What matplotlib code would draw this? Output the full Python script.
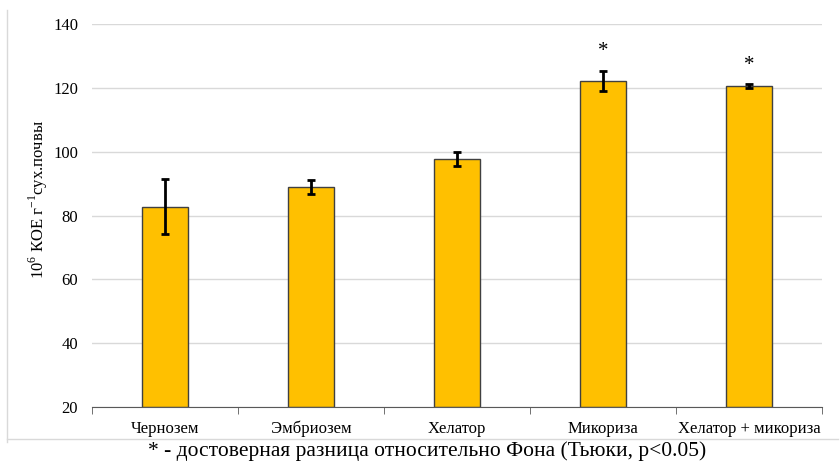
import numpy as np
import matplotlib.pyplot as plt
from matplotlib.lines import Line2D

plt.rcParams['font.family'] = ['Liberation Serif', 'DejaVu Serif']
plt.rcParams['mathtext.fontset'] = 'custom'
plt.rcParams['mathtext.rm'] = 'Liberation Serif'

# data
categories = ['Чернозем', 'Эмбриозем', 'Хелатор', 'Микориза', 'Хелатор + микориза']
values = [82.8, 88.9, 97.8, 122.2, 120.6]
errors = [8.5, 2.2, 2.2, 3.2, 0.5]
significant = [False, False, False, True, True]

fig = plt.figure(figsize=(8.4, 4.65), dpi=100)
ax = fig.add_axes([0.1095, 0.1247, 0.8691, 0.8237])

x = np.arange(len(categories))
ax.bar(x, np.array(values) - 20, bottom=20, width=0.315, color='#FFC000',
       edgecolor='#404040', linewidth=1.0, zorder=2)
ax.errorbar(x, values, yerr=errors, fmt='none', ecolor='black',
            elinewidth=2, capsize=3, capthick=2, zorder=3)

for xi, v, e, s in zip(x, values, errors, significant):
    if s:
        ax.text(xi, v + e + 6, '*', ha='center', va='center', fontsize=15)

ax.set_xlim(-0.5, len(categories) - 0.5)
ax.set_ylim(20, 140)
ax.set_yticks(np.arange(20, 141, 20))
ax.yaxis.grid(True, color='#d9d9d9', linewidth=1, zorder=0)
ax.set_axisbelow(True)

for s in ['top', 'right', 'left']:
    ax.spines[s].set_visible(False)
ax.spines['bottom'].set_color('#595959')
ax.spines['bottom'].set_zorder(4)

ax.set_xticks(x)
ax.set_xticklabels(categories, fontsize=12)
ax.set_xticks(np.arange(-0.5, len(categories), 1), minor=True)
ax.tick_params(axis='x', which='major', length=0, pad=10)
ax.tick_params(axis='x', which='minor', length=5, color='#595959')
ax.tick_params(axis='y', length=0, labelsize=12, pad=10)

ax.set_ylabel(r'10$^6$ КОЕ г$^{\mathrm{-}1}$сух.почвы', fontsize=12)
ax.yaxis.set_label_coords(-0.058, 0.543)

# chart area border (left and bottom visible)
fig.add_artist(Line2D([7/840, 7/840], [23/465, 455/465], color='#d9d9d9', lw=1))
fig.add_artist(Line2D([7/840, 838/840], [26/465, 26/465], color='#d9d9d9', lw=1))

fig.text(0.508, 0.008, '* - достоверная разница относительно Фона (Тьюки, p<0.05)',
         ha='center', va='bottom', fontsize=15.5)

fig.savefig('out.png', dpi=100)
